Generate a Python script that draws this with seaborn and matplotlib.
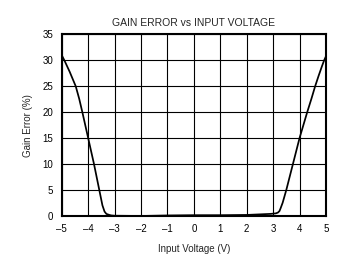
import matplotlib
matplotlib.use("Agg")
import matplotlib.pyplot as plt
import seaborn as sns
import pandas as pd

voltage = [-5.0, -4.9, -4.7, -4.47, -4.34, -4.22, -4.0, -3.78, -3.58, -3.46, -3.38, -3.31, -3.2, -3.12,
           -3.0, -2.0, -1.0, 0.0, 1.0, 2.0, 2.9, 3.1, 3.18, 3.24, 3.28, 3.36, 3.5, 3.75, 4.0, 4.29,
           4.45, 4.59, 4.72, 4.85, 4.93, 5.0]
gain_error = [31.0, 30.0, 27.8, 25.0, 22.6, 20.0, 15.0, 10.0, 5.0, 2.0, 0.8, 0.35, 0.15, 0.05,
              0.0, -0.05, 0.05, 0.1, 0.1, 0.15, 0.35, 0.45, 0.6, 0.9, 1.4, 2.5, 5.0, 10.0, 15.0, 20.0,
              22.6, 25.0, 27.0, 28.9, 30.0, 30.8]
x_ticks = [-5, -4, -3, -2, -1, 0, 1, 2, 3, 4, 5]
x_labels = ["–5", "–4", "–3", "–2", "–1", "0", "1", "2", "3", "4", "5"]
y_ticks = [0, 5, 10, 15, 20, 25, 30, 35]

sns.set_theme(style="white")
plt.rcParams['font.family'] = ['Liberation Sans', 'DejaVu Sans']

df = pd.DataFrame({"Input Voltage (V)": voltage, "Gain Error (%)": gain_error})

fig = plt.figure(figsize=(3.61, 2.65), dpi=100)
ax = fig.add_axes([0.171, 0.186, 0.732, 0.684])
sns.lineplot(data=df, x="Input Voltage (V)", y="Gain Error (%)", ax=ax,
             color="black", linewidth=1.25)
ax.set_xlim(-5, 5)
ax.set_ylim(0, 35)
ax.set_xticks(x_ticks)
ax.set_xticklabels(x_labels)
ax.set_yticks(y_ticks)
ax.grid(True, color="black", linewidth=0.8)
for s in ax.spines.values():
    s.set_color("black")
    s.set_linewidth(1.5)
ax.tick_params(axis="x", labelsize=7, length=0, pad=6, colors="black")
ax.tick_params(axis="y", labelsize=7, length=0, pad=6, colors="black")
ax.set_xlabel("Input Voltage (V)", fontsize=7, labelpad=7)
ax.set_ylabel("Gain Error (%)", fontsize=7, labelpad=7)
ax.set_title("GAIN ERROR vs INPUT VOLTAGE", fontsize=7.5, pad=6)
fig.savefig("out.png", dpi=100)
